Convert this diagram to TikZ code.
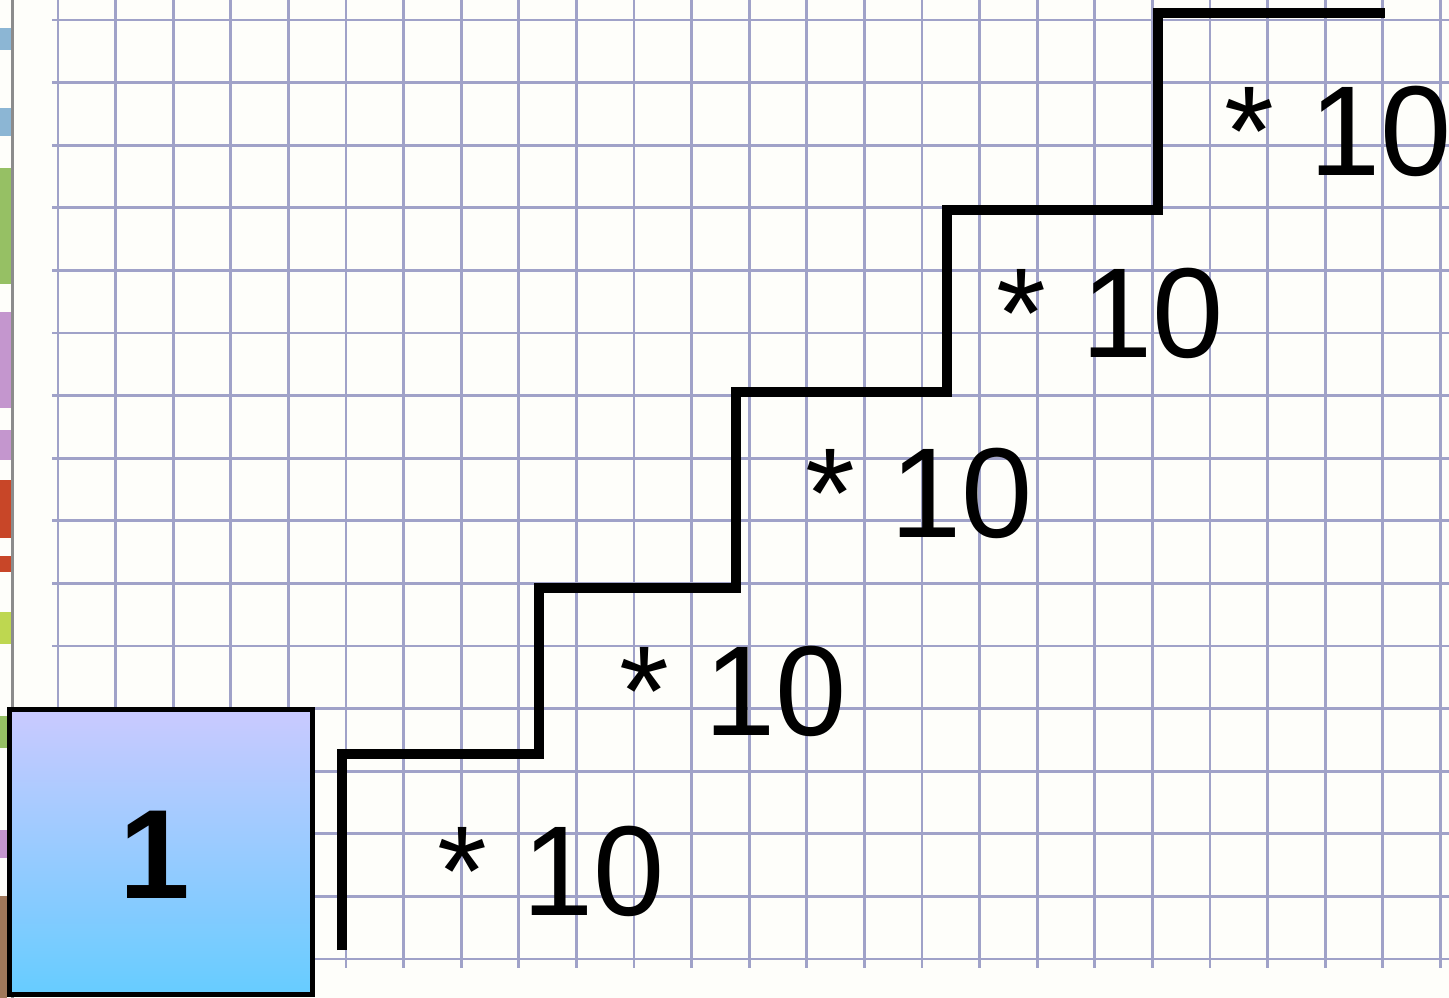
\documentclass[tikz,border=0pt]{standalone}
\usepackage{fontspec}
\setmainfont{Liberation Sans}
\definecolor{gridc}{RGB}{160,162,200}
\definecolor{paper}{RGB}{254,254,250}
\definecolor{boxtop}{RGB}{202,202,255}
\definecolor{boxbot}{RGB}{102,204,255}
\definecolor{stripb}{RGB}{140,182,212}
\definecolor{stripg}{RGB}{150,192,100}
\definecolor{stripp}{RGB}{196,150,206}
\definecolor{stripr}{RGB}{200,70,40}
\definecolor{stripy}{RGB}{190,215,80}
\definecolor{stripn}{RGB}{160,120,90}
\tikzset{
  gridline/.style={draw=gridc,line width=2.7},
  stair/.style={draw=black,line width=10.5,miter limit=4},
  mult/.style={anchor=base west,inner sep=0pt,font=\fontsize{128}{128}\selectfont},
  onebox/.style={draw=black,line width=5,top color=boxtop,bottom color=boxbot},
}
\begin{document}
\begin{tikzpicture}[x=1pt,y=-1pt]
\useasboundingbox (0,0) rectangle (1449,998);
\fill[paper] (0,0) rectangle (1449,998);
% left strip of the background picture
\fill[stripb] (0,28) rectangle (11,50);
\fill[stripb] (0,108) rectangle (11,136);
\fill[stripg] (0,168) rectangle (11,284);
\fill[stripp] (0,312) rectangle (11,408);
\fill[stripp] (0,430) rectangle (11,460);
\fill[stripr] (0,480) rectangle (11,538);
\fill[stripr] (0,556) rectangle (11,572);
\fill[stripy] (0,612) rectangle (11,644);
\fill[stripg] (0,716) rectangle (7,748);
\fill[stripp] (0,830) rectangle (7,858);
\fill[stripn] (0,896) rectangle (7,998);
\draw[draw=gray!90,line width=3] (12,0) -- (12,998);
% grid
\foreach \k in {0,...,24} {
  \draw[gridline] ({58+57.6*\k},0) -- ({58+57.6*\k},968);
}
\foreach \k in {0,...,15} {
  \draw[gridline] (52,{20+62.6*\k}) -- (1449,{20+62.6*\k});
}
% box with 1
\node[onebox,minimum width=303,minimum height=285,inner sep=0pt] (one) at (161,852) {};
\node[anchor=base west,inner sep=0pt,font=\fontsize{127}{127}\selectfont\bfseries] (onelabel) at (119,898) {1};
% staircase
\coordinate (s0) at (342,950);
\coordinate (s1) at (342,754);
\coordinate (s2) at (539,754);
\coordinate (s3) at (539,588);
\coordinate (s4) at (736,588);
\coordinate (s5) at (736,392);
\coordinate (s6) at (947,392);
\coordinate (s7) at (947,210);
\coordinate (s8) at (1158,210);
\coordinate (s9) at (1158,13);
\coordinate (s10) at (1385,13);
\draw[stair] (s0) -- (s1) -- (s2) -- (s3) -- (s4) -- (s5) -- (s6) -- (s7) -- (s8) -- (s9) -- (s10);
% labels
\node[mult] (m1) at (437,915) {* 10};
\node[mult] (m2) at (619,735) {* 10};
\node[mult] (m3) at (805,537) {* 10};
\node[mult] (m4) at (996,357) {* 10};
\node[mult] (m5) at (1224,175) {* 10};
\end{tikzpicture}
\end{document}
